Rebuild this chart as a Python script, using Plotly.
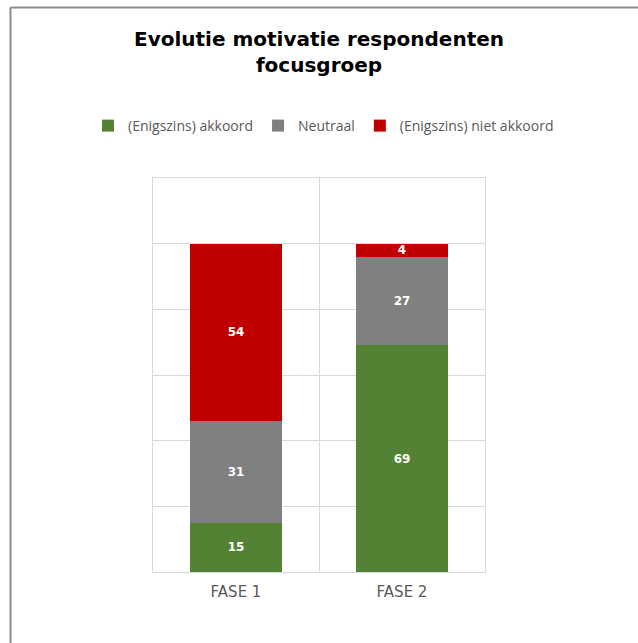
import plotly.graph_objects as go

categories = ["FASE 1", "FASE 2"]
akkoord = [15, 69]
neutraal = [31, 27]
niet_akkoord = [54, 4]
series_names = ["(Enigszins) akkoord", "Neutraal", "(Enigszins) niet akkoord"]
colors = ["#548235", "#808080", "#C00000"]

W, H = 638, 643
L, R, T, B = 153, 153, 178, 71
pw, ph = W - L - R, H - T - B

fig = go.Figure()
for name, vals, col in zip(series_names, [akkoord, neutraal, niet_akkoord], colors):
    fig.add_trace(go.Bar(
        x=categories, y=vals, name=name, marker=dict(color=col, line=dict(width=0)),
        width=0.555, text=[str(v) for v in vals], textposition="inside",
        insidetextanchor="middle", textangle=0, constraintext="none",
        textfont=dict(family="DejaVu Sans", size=12, color="white", weight="bold"),
        hoverinfo="skip",
    ))

# outer chart border (left and top visible)
bx = (10.5 - L) / pw
by = (H - B - 7.5) / ph
fig.add_shape(type="line", xref="paper", yref="paper", x0=bx, x1=bx, y0=-1, y1=by,
              line=dict(color="#8c8c8c", width=2))
fig.add_shape(type="line", xref="paper", yref="paper", x0=bx, x1=3, y0=by, y1=by,
              line=dict(color="#8c8c8c", width=2))

fig.update_layout(
    width=W, height=H, barmode="stack",
    margin=dict(l=L, r=R, t=T, b=B, autoexpand=False),
    paper_bgcolor="white", plot_bgcolor="white",
    uniformtext=dict(minsize=12, mode="show"),
    title=dict(text="<b>Evolutie motivatie respondenten<br>focusgroep</b>",
               x=0.5, xref="paper", y=1 - 46 / H, yref="container",
               xanchor="center", yanchor="middle",
               font=dict(family="DejaVu Sans", size=20, color="black")),
    legend=dict(orientation="h", xref="paper", x=(88 - L) / pw, xanchor="left",
                yref="paper", y=(H - B - 126) / ph, yanchor="middle",
                font=dict(family="Open Sans", size=14, color="#595959"),
                itemsizing="constant", traceorder="normal", itemwidth=30),
    xaxis=dict(type="category", tickson="boundaries", showgrid=True, gridcolor="#d9d9d9",
               gridwidth=1, ticks="", showline=True, linecolor="#d9d9d9", mirror=True,
               tickfont=dict(family="DejaVu Sans", size=15, color="#595959"),
               ticklabelstandoff=6, range=[-0.5, 1.5]),
    yaxis=dict(range=[0, 120], dtick=20, showgrid=True, gridcolor="#d9d9d9", gridwidth=1,
               showticklabels=False, zeroline=False, showline=True, linecolor="#d9d9d9",
               mirror=True),
    showlegend=True,
)

fig.write_html("out.html")
